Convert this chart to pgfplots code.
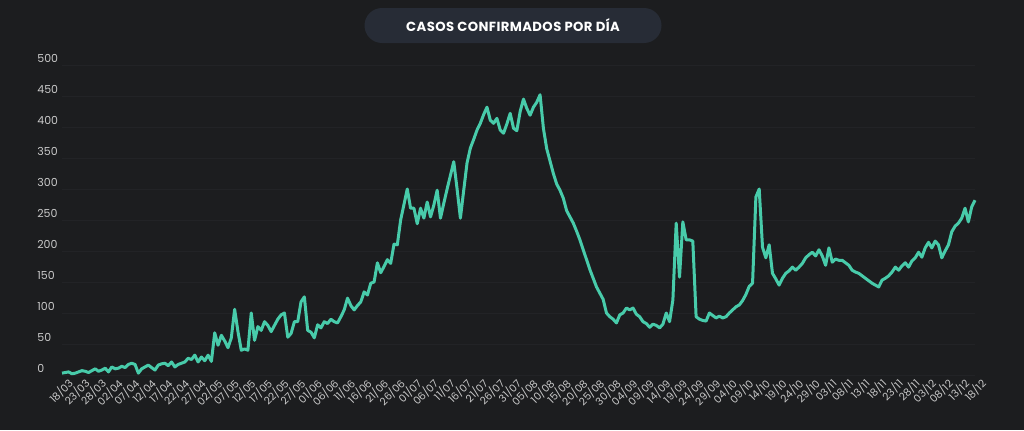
\documentclass[border=0pt]{standalone}
\usepackage{fontspec}
\setmainfont{Poppins}
\usepackage{pgfplots}
\pgfplotsset{compat=1.18}
\definecolor{bgc}{HTML}{1C1D1F}
\definecolor{pillc}{HTML}{272C36}
\definecolor{linec}{HTML}{48CBAA}
\definecolor{tickc}{HTML}{C9C9C9}
\definecolor{gridc}{HTML}{222326}

\begin{document}
\begin{tikzpicture}
\path[use as bounding box] (0,0) rectangle (512pt,215pt);
\fill[bgc] (0,0) rectangle (512pt,215pt);
\node[fill=pillc, rounded corners=8.75pt, minimum width=148.5pt, minimum height=17.5pt,
      text=white, font=\fontsize{6.6}{7}\selectfont\bfseries\addfontfeature{LetterSpace=3}] at (256.5pt,202.25pt)
      {CASOS CONFIRMADOS POR DÍA};
\begin{axis}[
    at={(31pt,27.5pt)}, anchor=south west,
    scale only axis, width=456.5pt, height=155pt,
    xmin=0, xmax=275, ymin=0, ymax=500,
    clip=false,
    axis line style={draw=none},
    major tick length=0pt,
    ymajorgrids, grid style={gridc, line width=0.4pt},
    ytick={0,50,...,500},
    yticklabel style={anchor=west, inner sep=0pt, xshift=-12.5pt, yshift=3.5pt,
        text=tickc, font=\fontsize{5.5}{6}\selectfont},
    /pgf/number format/assume math mode=true,
    xtick={0,5,...,275},
    xticklabels={18/03,23/03,28/03,02/04,07/04,12/04,17/04,22/04,27/04,02/05,07/05,12/05,17/05,22/05,27/05,01/06,06/06,11/06,16/06,21/06,26/06,01/07,06/07,11/07,16/07,21/07,26/07,31/07,05/08,10/08,15/08,20/08,25/08,30/08,04/09,09/09,14/09,19/09,24/09,29/09,04/10,09/10,14/10,19/10,24/10,29/10,03/11,08/11,13/11,18/11,23/11,28/11,03/12,08/12,13/12,18/12},
    xticklabel style={rotate=45, anchor=east, inner sep=0pt, xshift=1pt, yshift=-5.5pt,
        text=tickc, font=\fontsize{5.2}{6}\selectfont},
]
\addplot[linec, line width=1.5pt, line join=round, mark=none] coordinates {
(0,3) (1,4) (2,5) (3,2) (4,3) (5,5) (6,7) (7,6) (8,4) (9,7)
(10,10) (11,6) (12,8) (13,11) (14,5) (15,13) (16,10) (17,11) (18,14) (19,12)
(20,17) (21,19) (22,17) (23,3) (24,10) (25,13) (26,16) (27,12) (28,8) (29,16)
(30,18) (31,19) (32,15) (33,21) (34,13) (35,17) (36,19) (37,21) (38,27) (39,25)
(40,32) (41,21) (42,29) (43,23) (44,32) (45,22) (46,68) (47,48) (48,64) (49,55)
(50,44) (51,60) (52,106) (53,70) (54,40) (55,42) (56,40) (57,100) (58,56) (59,78)
(60,72) (61,86) (62,80) (63,70) (64,80) (65,90) (66,97) (67,100) (68,61) (69,67)
(70,86) (71,86) (72,118) (73,126) (74,72) (75,69) (76,60) (77,81) (78,76) (79,86)
(80,83) (81,90) (82,86) (83,84) (84,94) (85,105) (86,124) (87,112) (88,105) (89,112)
(90,118) (91,134) (92,129) (93,148) (94,150) (95,181) (96,165) (97,175) (98,186) (99,180)
(100,211) (101,210) (102,250) (103,275) (104,300) (105,269) (106,269) (107,244) (108,269) (109,253)
(110,279) (111,255) (112,274) (113,298) (114,253) (115,277) (116,300) (117,322) (118,344) (119,300)
(120,253) (121,298) (122,342) (123,366) (124,380) (125,395) (126,406) (127,420) (128,432) (129,411)
(130,406) (131,414) (132,395) (133,390) (134,405) (135,422) (136,398) (137,394) (138,425) (139,445)
(140,430) (141,419) (142,432) (143,440) (144,452) (145,398) (146,365) (147,345) (148,325) (149,308)
(150,298) (151,285) (152,265) (153,255) (154,245) (155,232) (156,218) (157,202) (158,186) (159,170)
(160,156) (161,142) (162,132) (163,122) (164,100) (165,94) (166,90) (167,84) (168,97) (169,100)
(170,108) (171,105) (172,108) (173,98) (174,94) (175,86) (176,83) (177,77) (178,82) (179,80)
(180,76) (181,82) (182,100) (183,86) (184,121) (185,245) (186,158) (187,247) (188,218) (189,218)
(190,216) (191,94) (192,90) (193,88) (194,87) (195,100) (196,96) (197,92) (198,95) (199,92)
(200,94) (201,100) (202,105) (203,110) (204,113) (205,120) (206,130) (207,143) (208,148) (209,287)
(210,300) (211,206) (212,189) (213,210) (214,164) (215,155) (216,145) (217,156) (218,164) (219,168)
(220,174) (221,169) (222,174) (223,180) (224,189) (225,194) (226,198) (227,192) (228,202) (229,192)
(230,177) (231,205) (232,182) (233,187) (234,185) (235,185) (236,181) (237,177) (238,169) (239,166)
(240,164) (241,160) (242,156) (243,152) (244,148) (245,145) (246,142) (247,153) (248,156) (249,160)
(250,166) (251,174) (252,169) (253,176) (254,181) (255,174) (256,184) (257,189) (258,198) (259,190)
(260,205) (261,214) (262,205) (263,216) (264,210) (265,189) (266,200) (267,210) (268,231) (269,240)
(270,245) (271,253) (272,269) (273,247) (274,271) (275,282)
};
\end{axis}
\end{tikzpicture}
\end{document}
